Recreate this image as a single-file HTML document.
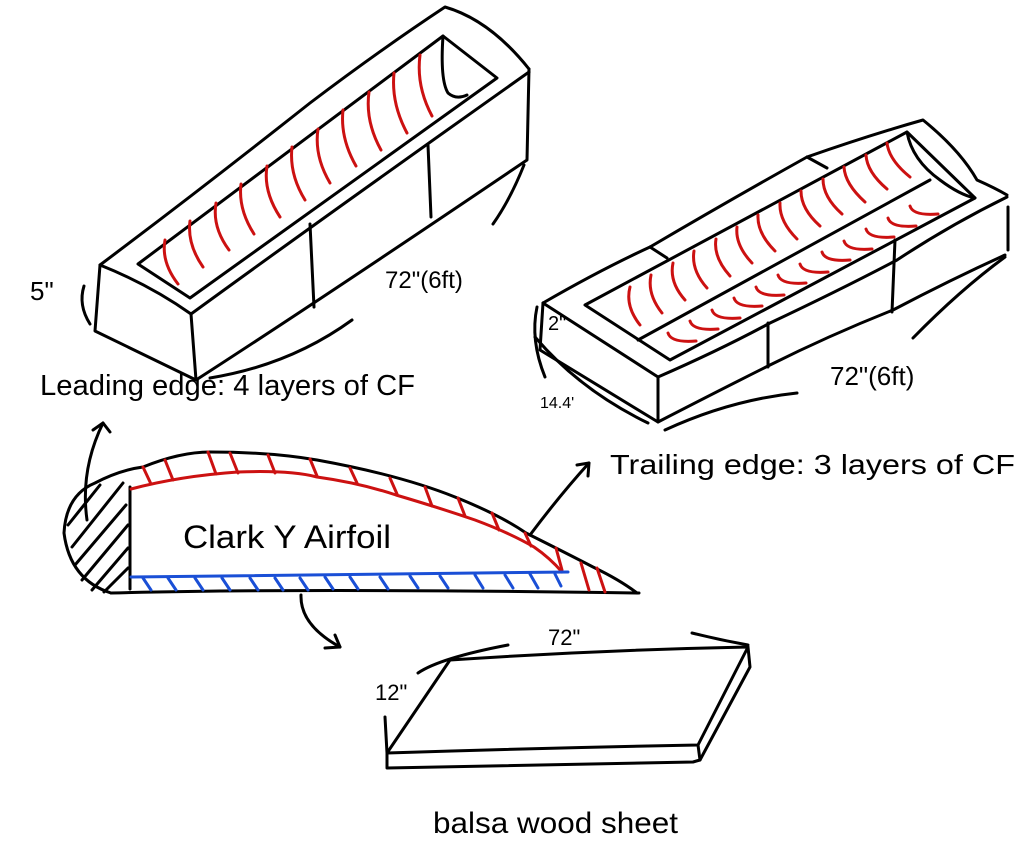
<!DOCTYPE html>
<html><head><meta charset="utf-8"><style>
html,body{margin:0;padding:0;background:#fff;}
svg{display:block}
text{font-family:"Liberation Sans",sans-serif;fill:#000;}
</style></head><body>
<svg width="1024" height="845" viewBox="0 0 1024 845" xmlns="http://www.w3.org/2000/svg">
<g fill="none" stroke="#000" stroke-width="3" stroke-linecap="round" stroke-linejoin="round">
<!-- LEFT BOX -->
<path d="M100 265 Q200 190 310 103 Q380 50 445 7 Q490 20 529 69"/>
<path d="M100 265 Q150 285 191 314 Q320 220 529 72"/>
<path d="M100 265 L95 331 L196 380 Q320 300 527 160 L529 69"/>
<path d="M191 314 L196 380"/>
<path d="M310 224 L314 307 M428 145 L431 217"/>
<path d="M138 264 L443 36 L497 78 L190 298 Z"/>
<path d="M443 36 Q440 80 448 93 Q456 100 467 95"/>
<path d="M84 286 Q78 305 90 324"/>
<path d="M210 378 Q290 365 352 320"/>
<path d="M524 165 Q510 200 493 224"/>
<!-- RIGHT BOX -->
<path d="M543 303 Q600 270 650 247 Q730 200 807 157 Q870 135 923 120 Q960 150 977 180 Q995 188 1007 195"/>
<path d="M543 303 L658 377 Q720 350 770 323 Q840 290 897 260 Q950 225 1007 197"/>
<path d="M543 303 L540 350 L658 422 Q720 390 770 365 Q830 335 893 310 Q950 280 1005 255"/>
<path d="M658 377 L658 422 M1008 207 L1008 250"/>
<path d="M768 323 L768 367 M895 240 L892 312 M650 247 L667 258 M807 157 L827 168"/>
<path d="M585 305 L907 132 L975 198 L670 360 Z"/>
<path d="M638 340 L930 180"/>
<path d="M907 132 Q912 160 940 180 Q960 195 975 198"/>
<path d="M537 307 Q530 340 545 377"/>
<path d="M535 337 Q580 390 648 423"/>
<path d="M665 430 Q730 400 797 393"/>
<path d="M913 338 Q960 290 1005 257"/>
<!-- AIRFOIL -->
<path d="M111 593 Q70 580 64 533 Q66 495 95 483 Q120 470 143 467 Q180 452 210 452 Q270 452 317 460 Q400 475 455 497 Q500 515 526 533 Q570 555 593 567 Q620 580 637 593"/>
<path d="M111 593 Q300 588 639 593"/>
<path d="M130 487 L130 589"/>
<path d="M72 547 L123 483 M75 565 L126 505 M82 580 L128 525 M92 590 L128 548 M104 592 L128 568 M68 525 L100 485"/>
<!-- arrows -->
<path d="M87 520 Q80 470 103 423"/>
<path d="M93 430 L103 423 L110 432"/>
<path d="M530 535 Q560 495 589 463"/>
<path d="M577 465 L589 463 L588 476"/>
<path d="M301 595 Q300 625 340 647"/>
<path d="M325 648 L340 647 L335 635"/>
<!-- BALSA -->
<path d="M450 660 Q600 650 748 647 L698 745 Q540 748 387 753 Z"/>
<path d="M387 753 L387 768 Q540 765 693 762 L700 760 L750 667 L748 647"/>
<path d="M698 745 L700 760"/>
<path d="M418 673 Q440 658 508 645"/>
<path d="M692 633 Q720 640 748 645"/>
<path d="M385 717 L387 753"/>
</g>
<!-- red lines -->
<g fill="none" stroke="#cc1111" stroke-width="3" stroke-linecap="round">
<path d="M165 240 Q161 262 178 284 M190 221 Q187 244 203 267 M216 203 Q212 227 229 250 M241 184 Q238 209 254 234 M267 166 Q263 191 280 217 M292 147 Q289 174 305 200 M318 129 Q314 156 330 183 M343 110 Q340 138 356 166 M369 92 Q365 121 381 150 M394 73 Q391 103 407 133 M420 55 Q416 86 432 116"/>
<path d="M630 287 Q625 306 640 325 M651 275 Q647 294 662 313 M673 263 Q669 282 685 300 M694 251 Q691 270 707 288 M716 239 Q713 257 730 276 M737 227 Q735 245 752 263 M758 215 Q757 233 775 251 M780 203 Q779 221 797 239 M801 191 Q801 209 820 226 M823 179 Q823 197 842 214 M844 167 Q845 184 865 202 M866 155 Q867 172 887 189 M887 143 Q889 160 910 177"/>
<path d="M668 333 q3 10 28 8 M690 321 q3 10 28 8 M712 310 q3 10 28 8 M734 298 q3 10 28 8 M756 287 q3 10 28 8 M778 275 q3 10 28 8 M800 264 q3 10 28 8 M822 252 q3 10 28 8 M844 241 q3 10 28 8 M866 229 q3 10 28 8 M888 218 q3 10 28 8 M910 206 q3 10 28 8"/>
<path d="M131 489 Q180 476 238 472 Q290 470 317 477 Q360 483 396 495 Q440 508 475 520 Q510 533 534 547 Q550 558 562 572"/>
<path d="M143 467 l8 17 M165 460 l8 20 M208 452 l8 22 M230 453 l8 20 M268 455 l7 18 M310 459 l7 17 M350 468 l7 15 M390 478 l7 16 M425 487 l7 19 M458 498 l7 18 M492 513 l7 17 M525 533 l6 13 M556 548 l6 22 M581 563 l8 27 M597 568 l8 24"/>
</g>
<g fill="none" stroke="#1a4fd6" stroke-width="3" stroke-linecap="round">
<path d="M131 577 Q350 574 568 572"/>
<path d="M143 578 l8 12 M168 578 l8 12 M195 578 l8 12 M222 578 l8 12 M250 578 l8 12 M275 578 l8 12 M300 578 l8 12 M325 577 l8 12 M350 577 l8 12 M380 577 l8 12 M410 576 l8 12 M440 576 l8 12 M475 575 l8 13 M505 575 l8 13 M530 574 l8 14 M555 574 l6 12"/>
</g>
<!-- labels -->
<text x="30" y="300" font-size="26">5"</text>
<text x="385" y="288" font-size="24">72"(6ft)</text>
<text x="40" y="395" font-size="29" textLength="375" lengthAdjust="spacingAndGlyphs">Leading edge: 4 layers of CF</text>
<text x="548" y="330" font-size="20">2"</text>
<text x="540" y="408" font-size="16">14.4'</text>
<text x="830" y="385" font-size="26">72"(6ft)</text>
<text x="610" y="474" font-size="28" textLength="405" lengthAdjust="spacingAndGlyphs">Trailing edge: 3 layers of CF</text>
<text x="183" y="548" font-size="32" textLength="208" lengthAdjust="spacingAndGlyphs">Clark Y Airfoil</text>
<text x="548" y="645" font-size="22">72"</text>
<text x="375" y="700" font-size="22">12"</text>
<text x="433" y="833" font-size="30" textLength="245" lengthAdjust="spacingAndGlyphs">balsa wood sheet</text>
</svg>
</body></html>
